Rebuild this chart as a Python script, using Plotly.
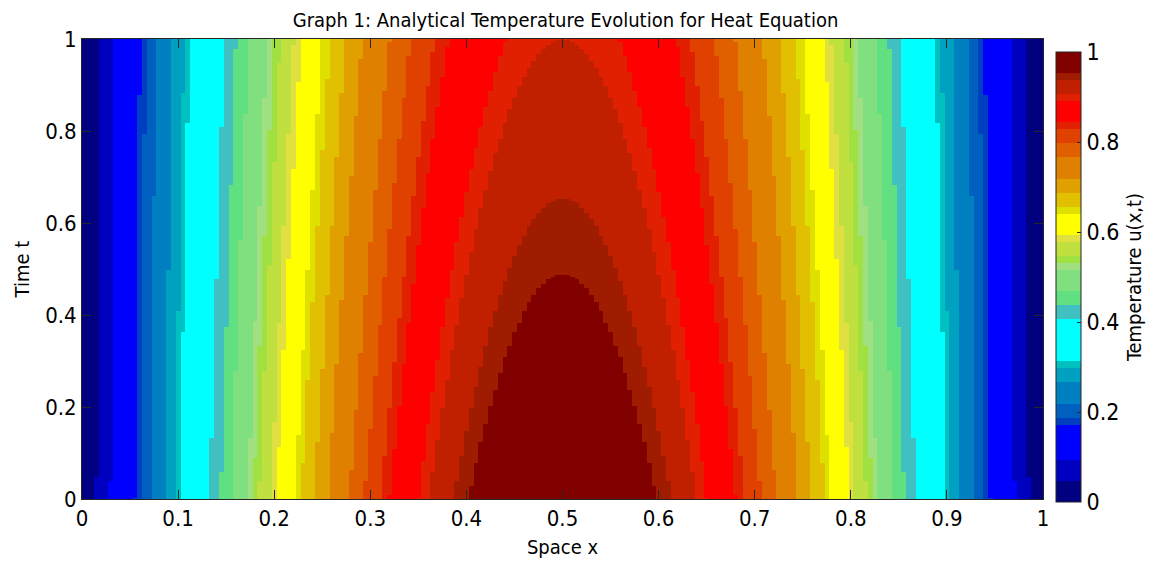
import numpy as np
import plotly.graph_objects as go

# ---- data -------------------------------------------------------------
# grid of the analytical solution u(x,t) = sin(pi x) exp(-alpha pi^2 t)
x_space = np.linspace(0.0, 1.0, 201)
t_time = np.linspace(0.0, 1.0, 201)
alpha = 0.01  # diffusivity
temperature = np.outer(np.exp(-alpha * np.pi ** 2 * t_time), np.sin(np.pi * x_space))

# quantised jet(64) palette as it appears in the colorbar (edges in 1/64 units)
band_edges_64 = [0, 3, 6, 11, 12, 14, 17, 19, 20, 26, 28, 30, 33, 34, 35, 37, 38,
                 41, 42, 44, 46, 49, 51, 53, 54, 57, 58, 60, 61, 64]
band_colors = ['#000080', '#0000c0', '#0000ff', '#0040c0', '#0060c0', '#0080c0',
               '#00a0c0', '#00c0c0', '#00ffff', '#40c0c0', '#60e080', '#80e080',
               '#a0e080', '#a0e040', '#c0e040', '#e0e040', '#ffff00', '#e0e000',
               '#e0c000', '#e0a000', '#e08000', '#e06000', '#e04000', '#e02000',
               '#ff0000', '#e02000', '#c02000', '#a01c00', '#800000']

x_ticks = [0, 0.1, 0.2, 0.3, 0.4, 0.5, 0.6, 0.7, 0.8, 0.9, 1]
x_tick_labels = ['0', '0.1', '0.2', '0.3', '0.4', '0.5', '0.6', '0.7', '0.8', '0.9', '1']
y_ticks = [0, 0.2, 0.4, 0.6, 0.8, 1]
y_tick_labels = ['0', '0.2', '0.4', '0.6', '0.8', '1']
cb_ticks = [0, 0.2, 0.4, 0.6, 0.8, 1]
cb_tick_labels = ['0', '0.2', '0.4', '0.6', '0.8', '1']

title_text = 'Graph 1: Analytical Temperature Evolution for Heat Equation'
x_title = 'Space x'
y_title = 'Time t'
cb_title = 'Temperature u(x,t)'

# ---- build stepped colorscale ------------------------------------------
colorscale = []
for i, c in enumerate(band_colors):
    colorscale.append([band_edges_64[i] / 64.0, c])
    colorscale.append([band_edges_64[i + 1] / 64.0, c])

FONT = "DejaVu Sans Condensed, Liberation Sans Narrow, Arial Narrow, sans-serif"
W, H = 1158, 568
ml, mr, mt, mb = 82, 109, 39, 69
plot_h = H - mt - mb

fig = go.Figure(go.Heatmap(
    x=x_space, y=t_time, z=temperature,
    colorscale=colorscale, zmin=0, zmax=1,
    colorbar=dict(
        x=(1062 - ml) / (W - ml - mr), xanchor='left',
        y=(H - mb - 52) / plot_h, yanchor='top',
        lenmode='pixels', len=450,
        thicknessmode='pixels', thickness=25,
        outlinewidth=1, outlinecolor='#262626',
        ticks='inside', ticklen=4, tickcolor='#262626',
        tickvals=cb_ticks, ticktext=cb_tick_labels,
        tickfont=dict(family=FONT, size=23, color='black'),
        xpad=0, ypad=0,
        title=dict(text=cb_title, side='right',
                   font=dict(family=FONT, size=20, color='black')),
    ),
))

axis_common = dict(
    showline=True, linecolor='#262626', linewidth=1, mirror='ticks',
    ticks='inside', ticklen=9, tickcolor='#262626', tickwidth=1,
    showgrid=False, zeroline=False,
    tickfont=dict(family=FONT, size=22, color='black'),
)

fig.update_layout(
    width=W, height=H,
    margin=dict(l=ml, r=mr, t=mt, b=mb),
    paper_bgcolor='white', plot_bgcolor='white',
    title=dict(text=title_text, x=(ml + (W - ml - mr) / 2) / W, xanchor='center',
               y=1 - 20 / H, yanchor='middle',
               font=dict(family=FONT, size=20, color='black')),
    xaxis=dict(range=[0, 1], tickvals=x_ticks, ticktext=x_tick_labels,
               title=dict(text=x_title, standoff=9,
                          font=dict(family=FONT, size=20, color='black')),
               **axis_common),
    yaxis=dict(range=[0, 1], tickvals=y_ticks, ticktext=y_tick_labels,
               title=dict(text=y_title, standoff=10,
                          font=dict(family=FONT, size=20, color='black')),
               **axis_common),
)

fig.write_html("out.html")
